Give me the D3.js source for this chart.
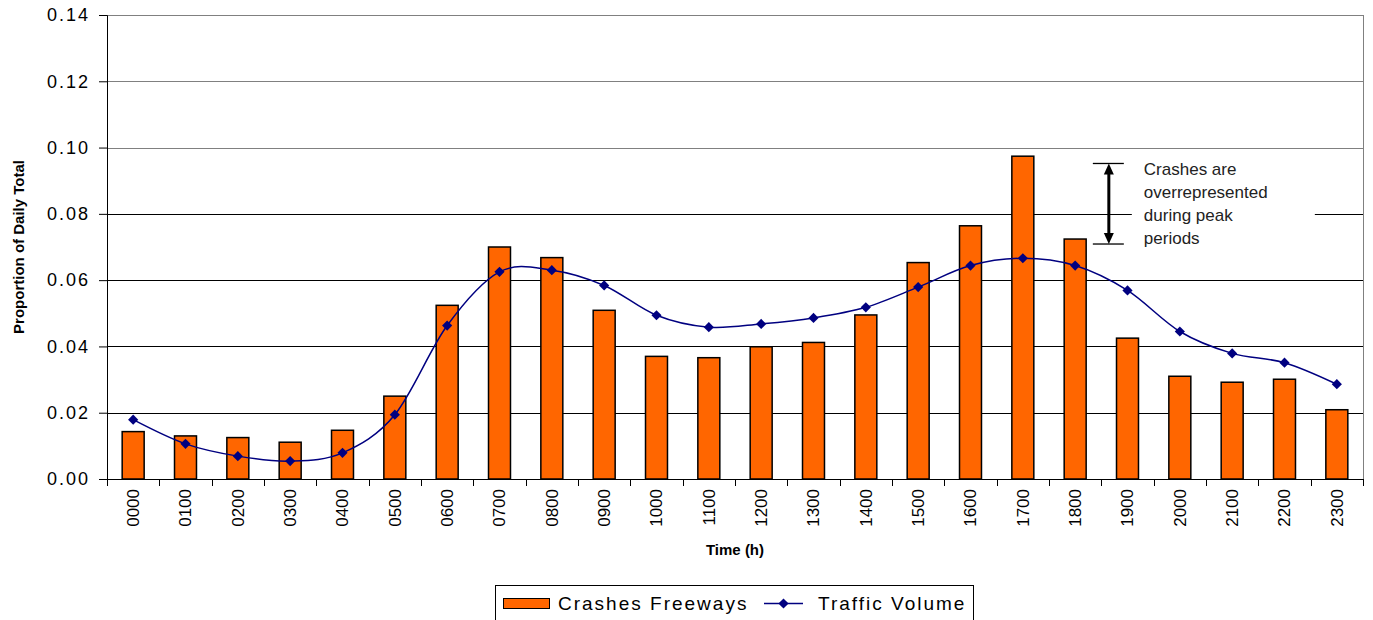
<!DOCTYPE html>
<html>
<head>
<meta charset="utf-8">
<style>
  body { margin: 0; background: #fff; }
  svg text { font-family: "Liberation Sans", Arial, sans-serif; }
  .yaxis text { font-size: 18px; letter-spacing: 2px; }
  .xaxis text { font-size: 17px; }
  .title { font-size: 15px; font-weight: bold; }
  .note { font-size: 17px; fill: #222; }
  .legend text { font-size: 19px; letter-spacing: 2px; }
</style>
</head>
<body>
<svg width="1373" height="620"></svg>
<script src="https://d3js.org/d3.v7.min.js"></script>
<script>
var hours = ["0000","0100","0200","0300","0400","0500","0600","0700","0800","0900","1000","1100",
             "1200","1300","1400","1500","1600","1700","1800","1900","2000","2100","2200","2300"];
var crashes = [0.0143,0.0130,0.0125,0.0111,0.0147,0.0250,0.0524,0.0700,0.0668,0.0509,0.0370,0.0366,
               0.0399,0.0412,0.0495,0.0653,0.0764,0.0974,0.0724,0.0425,0.0310,0.0292,0.0301,0.0209];
var traffic = [0.0179,0.0106,0.0069,0.0054,0.0079,0.0194,0.0463,0.0625,0.0630,0.0584,0.0494,0.0458,
               0.0468,0.0486,0.0518,0.0579,0.0644,0.0666,0.0644,0.0569,0.0445,0.0379,0.0351,0.0286];
var yTicks = [0, 0.02, 0.04, 0.06, 0.08, 0.10, 0.12, 0.14];
var noteLines = ["Crashes are", "overrepresented", "during peak", "periods"];
var noteRange = [0.0709, 0.0952];

var svg = d3.select("svg"),
    margin = {top: 15, left: 107},
    width = 1363 - margin.left,
    height = 479 - margin.top,
    g = svg.append("g").attr("transform", "translate(" + margin.left + "," + margin.top + ")");

var x = d3.scaleBand().domain(hours).range([0, width]).paddingInner(0.58).paddingOuter(0.29);
var xb = d3.scaleBand().domain(hours).range([0, width]);
var y = d3.scaleLinear().domain([0, 0.14]).range([height, 0]);

// gridlines
g.append("g").selectAll("line")
  .data(yTicks.filter(function(d) { return d > 0; }))
  .enter().append("line")
    .attr("x1", 0).attr("x2", width)
    .attr("y1", function(d) { return Math.round(y(d)) + 0.5; })
    .attr("y2", function(d) { return Math.round(y(d)) + 0.5; })
    .attr("stroke", function(d) { return d >= 0.099 ? "#808080" : "#000"; })
    .attr("stroke-width", 1);

// right border
g.append("line").attr("x1", width + 0.5).attr("x2", width + 0.5).attr("y1", 0).attr("y2", height)
  .attr("stroke", "#808080");

// bars
g.append("g").selectAll("rect")
  .data(crashes)
  .enter().append("rect")
    .attr("x", function(d, i) { return x(hours[i]); })
    .attr("y", function(d) { return y(d); })
    .attr("width", x.bandwidth())
    .attr("height", function(d) { return height - y(d); })
    .attr("fill", "#FF6600")
    .attr("stroke", "#000")
    .attr("stroke-width", 1.5);

// traffic line
var cx = function(i) { return xb(hours[i]) + xb.bandwidth() / 2; };
var line = d3.line()
  .x(function(d, i) { return cx(i); })
  .y(function(d) { return y(d); })
  .curve(d3.curveCardinal.tension(0));

g.append("path")
  .attr("d", line(traffic))
  .attr("fill", "none")
  .attr("stroke", "#000080")
  .attr("stroke-width", 1.5);

var diamond = d3.symbol().type(d3.symbolDiamond2).size(66);
g.append("g").selectAll("path")
  .data(traffic)
  .enter().append("path")
    .attr("d", diamond)
    .attr("transform", function(d, i) { return "translate(" + cx(i) + "," + y(d) + ")"; })
    .attr("fill", "#000080");

// axes
var yAxis = g.append("g").attr("class", "yaxis")
  .call(d3.axisLeft(y).tickValues(yTicks).tickFormat(d3.format(".2f")).tickSize(8).tickPadding(9));
yAxis.select(".domain").attr("stroke", "#000");

var xAxis = g.append("g").attr("class", "xaxis")
  .attr("transform", "translate(0," + height + ")")
  .call(d3.axisBottom(xb).tickSize(0).tickFormat(function(d) { return d; }));
xAxis.select(".domain").attr("d", "M0,0.5H" + width).attr("stroke", "#000");
xAxis.selectAll("text")
  .attr("transform", "rotate(-90)")
  .attr("text-anchor", "end")
  .attr("x", -10)
  .attr("y", 0)
  .attr("dy", "0.35em");
// x tick marks at band boundaries
xAxis.append("g").selectAll("line")
  .data(hours.concat(["end"]))
  .enter().append("line")
    .attr("x1", function(d, i) { return Math.round(i * xb.step()) + 0.5; })
    .attr("x2", function(d, i) { return Math.round(i * xb.step()) + 0.5; })
    .attr("y1", 0).attr("y2", 7)
    .attr("stroke", "#000");

// axis titles
svg.append("text").attr("class", "title")
  .attr("transform", "translate(24," + (margin.top + height / 2) + ") rotate(-90)")
  .attr("text-anchor", "middle")
  .text("Proportion of Daily Total");
svg.append("text").attr("class", "title")
  .attr("x", margin.left + width / 2).attr("y", 555)
  .attr("text-anchor", "middle")
  .text("Time (h)");

// annotation
var ax = xb("1900") + 7.5;
var note = g.append("g");
note.append("rect")
  .attr("x", ax + 23).attr("y", y(noteRange[1]) - 10)
  .attr("width", 183).attr("height", 96)
  .attr("fill", "#fff");
note.selectAll("line.cap")
  .data(noteRange)
  .enter().append("line")
    .attr("x1", ax - 16).attr("x2", ax + 15)
    .attr("y1", function(d) { return y(d); })
    .attr("y2", function(d) { return y(d); })
    .attr("stroke", "#000").attr("stroke-width", 1.3);
note.append("line")
  .attr("x1", ax).attr("x2", ax)
  .attr("y1", y(noteRange[1]) + 9).attr("y2", y(noteRange[0]) - 9)
  .attr("stroke", "#000").attr("stroke-width", 3);
note.selectAll("path.head")
  .data(noteRange)
  .enter().append("path")
    .attr("d", function(d, i) {
      var yy = y(d), s = i === 0 ? -1 : 1;
      return "M" + ax + "," + yy + "L" + (ax - 5) + "," + (yy + s * 11) + "L" + (ax + 5) + "," + (yy + s * 11) + "Z";
    })
    .attr("fill", "#000");
note.selectAll("text")
  .data(noteLines)
  .enter().append("text")
    .attr("class", "note")
    .attr("x", ax + 35)
    .attr("y", function(d, i) { return y(noteRange[1]) + 12 + i * 23; })
    .text(function(d) { return d; });

// legend
var legend = svg.append("g").attr("class", "legend");
legend.append("rect")
  .attr("x", 495.5).attr("y", 585.5).attr("width", 478).attr("height", 40)
  .attr("fill", "#fff").attr("stroke", "#000");
legend.append("rect")
  .attr("x", 503.5).attr("y", 598.5).attr("width", 46).attr("height", 10)
  .attr("fill", "#FF6600").attr("stroke", "#000");
legend.append("text").attr("x", 558).attr("y", 610).text("Crashes Freeways");
legend.append("line")
  .attr("x1", 764).attr("x2", 803).attr("y1", 603.5).attr("y2", 603.5)
  .attr("stroke", "#000080").attr("stroke-width", 1.5);
legend.append("path")
  .attr("d", diamond)
  .attr("transform", "translate(783.5,603.5)")
  .attr("fill", "#000080");
legend.append("text").attr("x", 818).attr("y", 610).text("Traffic Volume");
</script>
</body>
</html>
